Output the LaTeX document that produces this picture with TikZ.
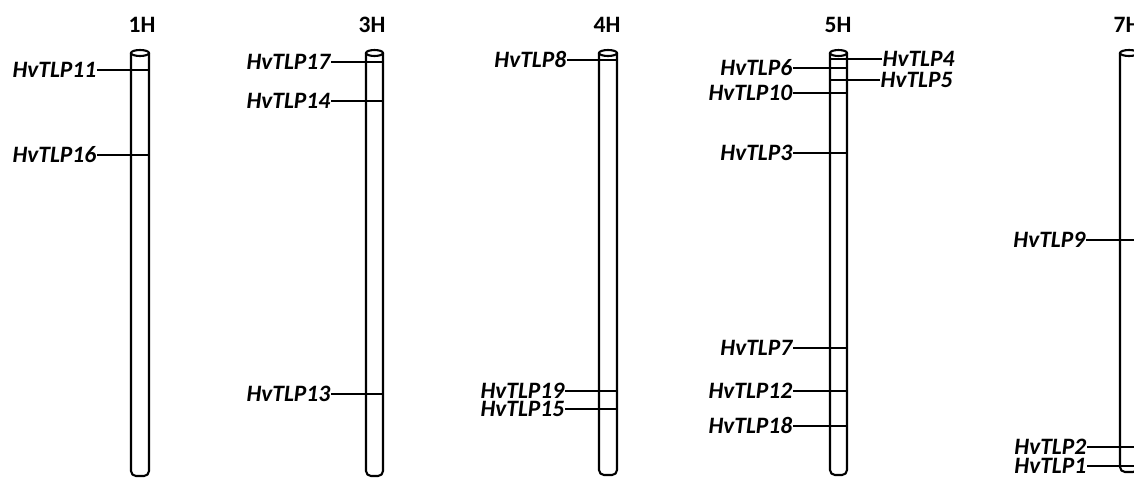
\documentclass[tikz,border=0pt]{standalone}
\usepackage{fontspec}
\setmainfont{Carlito}
\usepackage{tikz}

\tikzset{
  chromline/.style={line width=2.1pt},
  genelabel/.style={font=\fontsize{23.5}{25}\selectfont\bfseries\itshape, anchor=east, inner sep=0.5pt, text height=14pt, text depth=0pt},
  chromlabel/.style={font=\fontsize{23.5}{25}\selectfont\bfseries, inner sep=0pt},
}

\begin{document}
\begin{tikzpicture}[x=1pt, y=-1pt]
        \clip (0, 0) rectangle (1134, 477);
        % Chromosomes:
        \draw[chromline, rounded corners=5pt] (131, 53) -- (131, 476) -- (149, 476) -- (149, 53);
        \draw[chromline] (140, 53) ellipse (9pt and 3pt);
        \draw[chromline, rounded corners=5pt] (366, 53) -- (366, 476) -- (383, 476) -- (383, 53);
        \draw[chromline] (374.5, 53) ellipse (8.5pt and 3pt);
        \draw[chromline, rounded corners=5pt] (599, 53) -- (599, 475) -- (617, 475) -- (617, 53);
        \draw[chromline] (608, 53) ellipse (9pt and 3pt);
        \draw[chromline, rounded corners=5pt] (830, 53) -- (830, 475) -- (847, 475) -- (847, 53);
        \draw[chromline] (838.5, 53) ellipse (8.5pt and 3pt);
        \draw[chromline, rounded corners=5pt] (1120, 53) -- (1120, 472) -- (1138, 472) -- (1138, 53);
        \draw[chromline] (1129, 53) ellipse (9pt and 3pt);
        \coordinate (1Hr) at (149, 0);
        \coordinate (3Hr) at (383, 0);
        \coordinate (4Hr) at (617, 0);
        \coordinate (5Hl) at (830, 0);
        \coordinate (5Hr) at (847, 0);
        \coordinate (7Hr) at (1138, 0);
        \node[chromlabel] (c1H) at (142, 25) {1H};
        \node[chromlabel] (c3H) at (372, 25) {3H};
        \node[chromlabel] (c4H) at (607, 25) {4H};
        \node[chromlabel] (c5H) at (838, 25) {5H};
        \node[chromlabel] (c7H) at (1127, 25) {7H};
        % Genes on 1H:
        \node[genelabel] (tlp11) at (97, 70) {HvTLP11};
        \node[genelabel] (tlp16) at (97, 155) {HvTLP16};
        \draw[chromline] (tlp11.east) -- (tlp11.east -| 1Hr);
        \draw[chromline] (tlp16.east) -- (tlp16.east -| 1Hr);
        % Genes on 3H:
        \node[genelabel] (tlp17) at (331, 62) {HvTLP17};
        \node[genelabel] (tlp14) at (331, 101) {HvTLP14};
        \node[genelabel] (tlp13) at (331, 394) {HvTLP13};
        \draw[chromline] (tlp17.east) -- (tlp17.east -| 3Hr);
        \draw[chromline] (tlp14.east) -- (tlp14.east -| 3Hr);
        \draw[chromline] (tlp13.east) -- (tlp13.east -| 3Hr);
        % Genes on 4H:
        \node[genelabel] (tlp8) at (567, 60) {HvTLP8};
        \node[genelabel] (tlp19) at (565, 391) {HvTLP19};
        \node[genelabel] (tlp15) at (565, 409) {HvTLP15};
        \draw[chromline] (tlp8.east) -- (tlp8.east -| 4Hr);
        \draw[chromline] (tlp19.east) -- (tlp19.east -| 4Hr);
        \draw[chromline] (tlp15.east) -- (tlp15.east -| 4Hr);
        % Genes on 5H:
        \node[genelabel] (tlp6) at (793, 68) {HvTLP6};
        \node[genelabel] (tlp10) at (793, 93) {HvTLP10};
        \node[genelabel] (tlp3) at (793, 153) {HvTLP3};
        \node[genelabel] (tlp7) at (793, 348) {HvTLP7};
        \node[genelabel] (tlp12) at (793, 391) {HvTLP12};
        \node[genelabel] (tlp18) at (793, 426) {HvTLP18};
        \node[genelabel, anchor=west] (tlp4) at (882, 59) {HvTLP4};
        \node[genelabel, anchor=west] (tlp5) at (880, 80) {HvTLP5};
        \draw[chromline] (tlp6.east) -- (tlp6.east -| 5Hr);
        \draw[chromline] (tlp10.east) -- (tlp10.east -| 5Hr);
        \draw[chromline] (tlp3.east) -- (tlp3.east -| 5Hr);
        \draw[chromline] (tlp7.east) -- (tlp7.east -| 5Hr);
        \draw[chromline] (tlp12.east) -- (tlp12.east -| 5Hr);
        \draw[chromline] (tlp18.east) -- (tlp18.east -| 5Hr);
        \draw[chromline] (tlp4.west) -- (tlp4.west -| 5Hl);
        \draw[chromline] (tlp5.west) -- (tlp5.west -| 5Hl);
        % Genes on 7H:
        \node[genelabel] (tlp9) at (1086, 240) {HvTLP9};
        \node[genelabel] (tlp2) at (1087, 447) {HvTLP2};
        \node[genelabel] (tlp1) at (1087, 466) {HvTLP1};
        \draw[chromline] (tlp9.east) -- (tlp9.east -| 7Hr);
        \draw[chromline] (tlp2.east) -- (tlp2.east -| 7Hr);
        \draw[chromline] (tlp1.east) -- (tlp1.east -| 7Hr);
    \end{tikzpicture}
\end{document}
